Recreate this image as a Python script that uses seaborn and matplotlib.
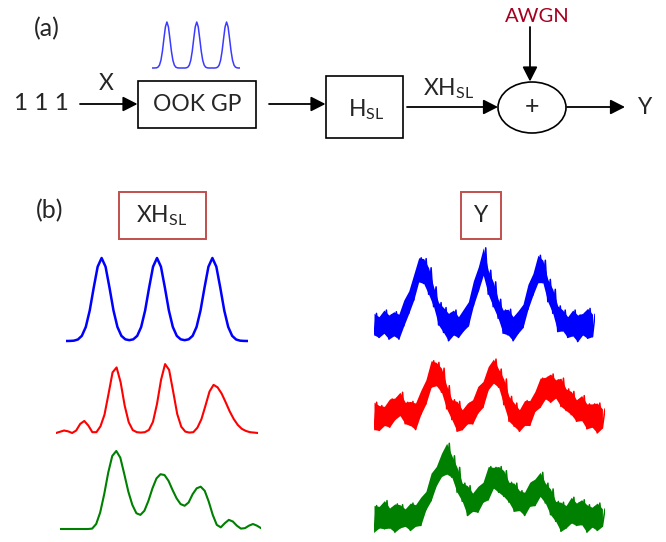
import numpy as np
import matplotlib
matplotlib.use("Agg")
import matplotlib.pyplot as plt
from matplotlib.patches import Rectangle, Ellipse, FancyArrowPatch
import seaborn as sns

sns.set_style("white")
plt.rcParams["font.family"] = ["Lato", "DejaVu Sans"]
plt.rcParams["mathtext.fontset"] = "custom"
plt.rcParams["mathtext.rm"] = "Lato"
plt.rcParams["mathtext.it"] = "Lato:italic"
plt.rcParams["mathtext.bf"] = "Lato:bold"

# ---------------------------------------------------------------- labels
bits_label = "1 1 1"
input_label = "X"
block_gp = "OOK GP"
block_channel = "H$_{\\mathregular{SL}}$"
channel_out = "XH$_{\\mathregular{SL}}$"
noise_label = "AWGN"
output_label = "Y"
column_titles = ["XH$_{\\mathregular{SL}}$", "Y"]

# ---------------------------------------------------------------- waveforms
# Gaussian pulse train produced by the OOK GP block
gp_pulses = [0, 0, 0.001, 0.004, 0.018, 0.062, 0.169, 0.368, 0.641, 0.895,
             1.0, 0.895, 0.641, 0.368, 0.169, 0.062, 0.018, 0.004, 0, 0,
             0, 0, 0, 0.004, 0.018, 0.062, 0.169, 0.368, 0.641, 0.895,
             1.0, 0.895, 0.641, 0.368, 0.169, 0.062, 0.018, 0.004, 0, 0,
             0, 0, 0, 0.004, 0.018, 0.062, 0.169, 0.368, 0.641, 0.895,
             1.0, 0.895, 0.641, 0.368, 0.169, 0.062, 0.018, 0.004, 0, 0]

# Channel outputs XH_SL (noise free)
xh_blue = [0, 0.001, 0.004, 0.018, 0.062, 0.169, 0.368, 0.641, 0.895, 1.0,
           0.895, 0.641, 0.368, 0.169, 0.062, 0.02, 0.01, 0.02, 0.062, 0.169,
           0.368, 0.641, 0.895, 1.0, 0.895, 0.641, 0.368, 0.169, 0.062, 0.02,
           0.01, 0.02, 0.062, 0.169, 0.368, 0.641, 0.895, 1.0, 0.895, 0.641,
           0.368, 0.169, 0.062, 0.018, 0.004, 0.001, 0]
xh_red = [0.0, 0.015, 0.03, 0.02, 0.0, 0.03, 0.11, 0.145, 0.09, 0.01,
          0.01, 0.08, 0.22, 0.47, 0.73, 0.79, 0.61, 0.33, 0.13, 0.035,
          0.01, 0.005, 0.01, 0.037, 0.134, 0.35, 0.64, 0.83, 0.76, 0.50,
          0.23, 0.076, 0.017, 0.005, 0.01, 0.064, 0.167, 0.33, 0.50, 0.58,
          0.55, 0.475, 0.37, 0.26, 0.168, 0.097, 0.05, 0.025, 0.01, 0.005, 0.0]
xh_green = [0, 0, 0, 0, 0, 0, 0, 0, 0.005, 0.06,
            0.2, 0.42, 0.68, 0.88, 0.94, 0.86, 0.66, 0.45, 0.29, 0.19,
            0.17, 0.22, 0.34, 0.49, 0.61, 0.66, 0.65, 0.58, 0.47, 0.37,
            0.30, 0.28, 0.32, 0.42, 0.49, 0.51, 0.46, 0.33, 0.17, 0.05,
            0.02, 0.07, 0.11, 0.09, 0.04, 0.005, 0.01, 0.04, 0.06, 0.04, 0.01]

# Received signals Y: lower / upper extent of the noisy trace per sample
y_blue_lo = [-0.12, -0.15, -0.10, -0.17, -0.13, -0.17, -0.01, 0.14, 0.30, 0.52,
             0.50, 0.37, 0.22, 0.00, -0.09, -0.19, -0.12, -0.15, -0.07, -0.01,
             0.23, 0.41, 0.60, 0.37, 0.22, 0.08, -0.10, -0.12, -0.19, -0.10,
             -0.03, 0.19, 0.36, 0.51, 0.51, 0.28, 0.14, -0.08, -0.07, -0.15,
             -0.13, -0.20, -0.12, -0.16, -0.14]
y_blue_hi = [0.14, 0.10, 0.18, 0.12, 0.16, 0.13, 0.30, 0.41, 0.61, 0.81,
             0.80, 0.69, 0.46, 0.27, 0.21, 0.14, 0.18, 0.10, 0.19, 0.28,
             0.53, 0.70, 0.93, 0.66, 0.52, 0.31, 0.18, 0.19, 0.10, 0.17,
             0.25, 0.49, 0.62, 0.84, 0.78, 0.55, 0.43, 0.23, 0.18, 0.10,
             0.18, 0.12, 0.14, 0.20, 0.13]
y_red_lo = [-0.14, -0.15, -0.09, -0.11, -0.02, 0.03, -0.07, -0.09, -0.14, 0.04,
            0.17, 0.37, 0.39, 0.31, 0.11, -0.02, -0.16, -0.14, -0.07, -0.07,
            0.06, 0.13, 0.34, 0.42, 0.37, 0.16, -0.04, -0.10, -0.16, -0.09,
            -0.09, 0.08, 0.13, 0.23, 0.19, 0.24, 0.14, 0.09, 0.04, -0.04,
            -0.03, -0.13, -0.11, -0.18, -0.12]
y_red_hi = [0.19, 0.15, 0.14, 0.23, 0.24, 0.31, 0.19, 0.20, 0.18, 0.33,
            0.46, 0.69, 0.67, 0.60, 0.39, 0.22, 0.20, 0.10, 0.18, 0.22,
            0.38, 0.44, 0.62, 0.71, 0.59, 0.47, 0.26, 0.18, 0.10, 0.21,
            0.21, 0.32, 0.48, 0.49, 0.53, 0.46, 0.48, 0.35, 0.32, 0.22,
            0.27, 0.17, 0.17, 0.18, 0.11]
y_green_lo = [-0.17, -0.12, -0.13, -0.12, -0.17, -0.12, -0.10, -0.15, -0.10, -0.09,
              0.10, 0.21, 0.39, 0.50, 0.53, 0.49, 0.31, 0.20, 0.03, 0.08,
              0.07, 0.19, 0.22, 0.36, 0.31, 0.26, 0.19, 0.08, 0.09, 0.03,
              0.14, 0.15, 0.26, 0.18, 0.04, -0.04, -0.16, -0.12, -0.06, -0.09,
              -0.08, -0.17, -0.11, -0.15, -0.10]
y_green_hi = [0.15, 0.14, 0.21, 0.12, 0.17, 0.16, 0.11, 0.18, 0.16, 0.25,
              0.32, 0.54, 0.62, 0.78, 0.90, 0.75, 0.61, 0.42, 0.39, 0.30,
              0.38, 0.43, 0.62, 0.61, 0.62, 0.57, 0.43, 0.42, 0.33, 0.31,
              0.43, 0.47, 0.55, 0.42, 0.35, 0.20, 0.19, 0.15, 0.25, 0.18,
              0.22, 0.16, 0.13, 0.18, 0.11]

BLUE, RED, GREEN = "#0000FF", "#FF0000", "#008000"
BOX_EDGE = "#C0504D"
AWGN_COLOR = "#A50021"

# ---------------------------------------------------------------- figure
W, H = 666, 542
fig = plt.figure(figsize=(W / 100, H / 100), dpi=100)
fig.patch.set_facecolor("white")

# canvas in pixel units for the block diagram
ax0 = fig.add_axes([0, 0, 1, 1])
ax0.set_xlim(0, W)
ax0.set_ylim(H, 0)
ax0.axis("off")


def arrow(p0, p1):
    ax0.add_patch(FancyArrowPatch(p0, p1, arrowstyle="-|>,head_length=0.55,head_width=0.28",
                                  mutation_scale=16, lw=1.3, color="black",
                                  shrinkA=0, shrinkB=0))


def box(x0, y0, x1, y1, edge="black", lw=1.2):
    ax0.add_patch(Rectangle((x0, y0), x1 - x0, y1 - y0, fill=False, ec=edge, lw=lw))


# (a) block diagram
ax0.text(47, 29, "(a)", fontsize=18, ha="center", va="center")
ax0.text(41, 104, bits_label, fontsize=17.5, ha="center", va="center")
arrow((80, 104), (137.5, 104))
ax0.text(106, 84, input_label, fontsize=16.5, ha="center", va="center")
box(138, 81, 256, 128)
ax0.text(197, 104.5, block_gp, fontsize=16.5, ha="center", va="center")
arrow((269, 104), (325.5, 104))
box(326, 76, 403, 138)
ax0.text(366, 110, block_channel, fontsize=16.5, ha="center", va="center")
arrow((407, 107), (498, 107))
ax0.text(449, 89, channel_out, fontsize=16.5, ha="center", va="center")
ax0.add_patch(Ellipse((532, 107.5), 68, 51, fill=False, ec="black", lw=1.2))
ax0.text(532.5, 107, "+", fontsize=18, ha="center", va="center")
ax0.text(537, 17, noise_label, fontsize=14.5, ha="center", va="center", color=AWGN_COLOR)
arrow((530, 27), (530, 81.5))
arrow((567, 107), (625, 107))
ax0.text(645, 107, output_label, fontsize=16.5, ha="center", va="center")

# (b) panel titles
ax0.text(50, 211, "(b)", fontsize=18, ha="center", va="center")
box(119, 192, 206, 239, edge=BOX_EDGE, lw=1.4)
ax0.text(162, 216, column_titles[0], fontsize=16.5, ha="center", va="center")
box(461, 192, 501, 239, edge=BOX_EDGE, lw=1.4)
ax0.text(481, 216, column_titles[1], fontsize=16.5, ha="center", va="center")


def trace_axes(x0, x1, base, unit, tmax, amin=-0.35, amax=1.15):
    """Axes whose time axis spans pixels x0..x1 and whose zero level sits at pixel row `base`."""
    ax = fig.add_axes([x0 / W, 1 - (base - amin * unit) / H,
                       (x1 - x0) / W, (amax - amin) * unit / H])
    ax.set_xlim(0, tmax)
    ax.set_ylim(amin, amax)
    ax.axis("off")
    ax.patch.set_alpha(0)
    return ax


def smooth(ax, values, color, lw):
    t = np.arange(len(values))
    sns.lineplot(x=t, y=np.asarray(values), ax=ax, color=color, lw=lw,
                 estimator=None, sort=False)


def noisy(ax, lo, hi, color):
    lo = np.asarray(lo)
    hi = np.asarray(hi)
    t = np.arange(len(lo))
    ax.fill_between(t, lo, hi, color=color, lw=0)
    tz = np.empty(2 * len(t))
    yz = np.empty(2 * len(t))
    tz[0::2], tz[1::2] = t, t + 0.5
    yz[0::2], yz[1::2] = lo, hi
    sns.lineplot(x=tz, y=yz, ax=ax, color=color, lw=1.1, estimator=None, sort=False)


# pulses above the OOK GP block
ax_gp = trace_axes(152, 240, 68, 46, len(gp_pulses) - 1)
smooth(ax_gp, gp_pulses, "#3B3BFF", 1.1)

# left column: XH_SL
smooth(trace_axes(66, 248, 341, 83, len(xh_blue) - 1), xh_blue, BLUE, 1.8)
smooth(trace_axes(56, 258, 433, 83, len(xh_red) - 1), xh_red, RED, 1.5)
smooth(trace_axes(60, 261, 529, 83, len(xh_green) - 1), xh_green, GREEN, 1.5)

# right column: Y
noisy(trace_axes(374, 595, 325, 83, len(y_blue_lo) - 0.5), y_blue_lo, y_blue_hi, BLUE)
noisy(trace_axes(374, 605, 418, 83, len(y_red_lo) - 0.5), y_red_lo, y_red_hi, RED)
noisy(trace_axes(374, 605, 518, 83, len(y_green_lo) - 0.5), y_green_lo, y_green_hi, GREEN)

fig.savefig("out.png", dpi=100, facecolor="white")
